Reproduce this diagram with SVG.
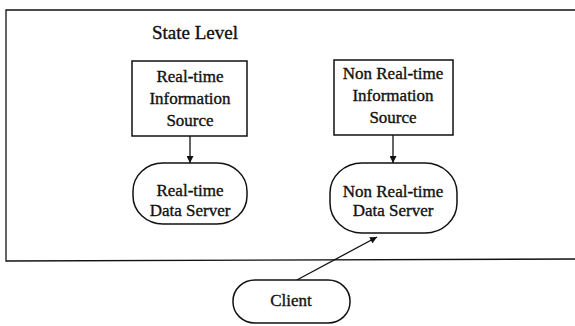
<svg xmlns="http://www.w3.org/2000/svg" width="575" height="326" viewBox="0 0 575 326">
<style>
text{font-family:"Liberation Serif","Times New Roman",serif;fill:#111;stroke:#111;stroke-width:0.35;text-anchor:middle;font-size:17px}
.box{fill:#fff;stroke:#111;stroke-width:1.5}
.frame{fill:none;stroke:#111;stroke-width:1.3}
.conn{stroke:#111;stroke-width:1.3;fill:none;marker-end:url(#ah)}
</style>
<defs>
<marker id="ah" viewBox="0 0 10 10" refX="10" refY="5" markerWidth="7" markerHeight="7" markerUnits="userSpaceOnUse" orient="auto">
<path d="M0,0 L10,5 L0,10 z" fill="#111"/>
</marker>
</defs>
<rect width="575" height="326" fill="#fff"/>
<g id="state-level">
<path class="frame" d="M575,10 L6,10 L6,261 L575,259"/>
<text x="195" y="39" style="font-size:19px">State Level</text>
</g>
<g id="connectors">
<line class="conn" x1="190" y1="136" x2="190" y2="163"/>
<line class="conn" x1="393" y1="135" x2="393" y2="163"/>
<line class="conn" x1="295" y1="281" x2="377" y2="237"/>
</g>
<g id="rt-source">
<rect class="box" x="132" y="61" width="115" height="75"/>
<text x="190" y="82">Real-time</text>
<text x="190" y="104">Information</text>
<text x="190" y="126">Source</text>
</g>
<g id="nrt-source">
<rect class="box" x="334" y="60" width="119" height="75"/>
<text x="393" y="79">Non Real-time</text>
<text x="393" y="101">Information</text>
<text x="393" y="123">Source</text>
</g>
<g id="rt-server">
<rect class="box" x="133" y="163" width="114" height="61" rx="30" ry="28"/>
<text x="190" y="196">Real-time</text>
<text x="190" y="216">Data Server</text>
</g>
<g id="nrt-server">
<rect class="box" x="330" y="163" width="127" height="70" rx="32" ry="30"/>
<text x="393" y="197">Non Real-time</text>
<text x="393" y="216">Data Server</text>
</g>
<g id="client">
<rect class="box" x="233" y="280" width="117" height="43" rx="22" ry="21"/>
<text x="291" y="306">Client</text>
</g>
</svg>
